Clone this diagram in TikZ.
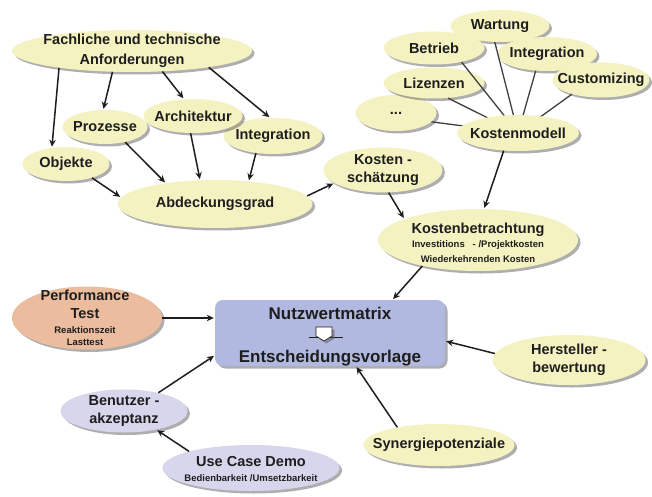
\documentclass[tikz,border=0pt]{standalone}
\usepackage{fontspec}
\setmainfont{Liberation Sans}
\usetikzlibrary{shapes.geometric,shadows,arrows.meta,calc}

\definecolor{cream}{HTML}{F5F2C2}
\definecolor{salmon}{HTML}{EBBC9D}
\definecolor{lilac}{HTML}{D8D6EC}
\definecolor{matrixblue}{HTML}{B2B9E0}
\definecolor{ink}{HTML}{1E1E1E}

\newcommand\fbig{\fontsize{14.5pt}{18pt}\selectfont\bfseries}
\newcommand\fmatrix{\fontsize{17pt}{20pt}\selectfont\bfseries}
\newcommand\fsm{\fontsize{9.5pt}{12pt}\selectfont\bfseries}

% \bub{name}{centre}{width}{height}{fill}
\newcommand\bub[5]{\node[bubble, fill=#5, minimum width=#3pt, minimum height=#4pt] (#1) at (#2) {};}

\tikzset{
  softshadow/.style={drop shadow={shadow xshift=2.5pt, shadow yshift=-2.5pt, opacity=.45, fill=black!70}},
  bubble/.style={ellipse, inner sep=0pt, softshadow},
  lbl/.style={font=\fbig, text=ink, align=center, inner sep=0pt},
  note/.style={font=\fsm, text=ink, inner sep=0pt},
  arr/.style={draw=ink, line width=1.5pt, -{Stealth[length=7pt,width=6.5pt]}, shorten >=1pt},
  link/.style={draw=ink!85, line width=1.3pt},
}

\begin{document}
\begin{tikzpicture}[x=1pt, y=-1pt]
\fill[white] (0,0) rectangle (652,497);
\useasboundingbox (0,0) rectangle (652,497);

% requirements cluster
\bub{fach}{132,51}{240}{42}{cream}
\bub{integL}{273,136}{99}{36}{cream}
\bub{arch}{193,116}{99}{34}{cream}
\bub{proz}{105,127}{85}{34}{cream}
\bub{obj}{66,164}{87}{34}{cream}
\bub{abd}{215,204}{195}{48}{cream}

% cost model cluster
\bub{wart}{500,26}{99}{32}{cream}
\bub{betr}{434,48}{101}{33}{cream}
\bub{integR}{547,54}{100}{34}{cream}
\bub{cust}{601,80}{97}{35}{cream}
\bub{dots}{396,113}{81}{36}{cream}
\bub{liz}{434,83}{101}{31}{cream}

% cost model links
\draw[link] (dots.346) -- (518,133);
\draw[link] (liz.313) -- (518,133);
\draw[link] (betr.333) -- (518,133);
\draw[link] (wart.252) -- (518,133);
\draw[link] (integR.236) -- (518,133);
\draw[link] (cust.206) -- (518,133);

\bub{kmod}{518,133}{122}{36}{cream}
\bub{ksch}{383,170}{119}{45}{cream}
\bub{kbetr}{478,240}{200}{62}{cream}

% decision box
\node[rectangle, rounded corners=8pt, fill=matrixblue, minimum width=230pt,
      minimum height=66pt, softshadow] (nutz) at (330,333) {};

% evaluation inputs
\bub{perf}{87,318}{150}{63}{salmon}
\bub{benu}{124,411}{127}{43}{lilac}
\bub{ucd}{251,468}{177}{46}{lilac}
\bub{herst}{569,360}{153}{50}{cream}
\bub{syn}{439,445}{151}{42}{cream}

% labels
\node[lbl] (fach-t) at (fach) {Fachliche und technische\\[2pt]Anforderungen};
\node[lbl] (proz-t) at (proz) {Prozesse};
\node[lbl] (arch-t) at (arch) {Architektur};
\node[lbl] (integL-t) at (integL) {Integration};
\node[lbl] (obj-t) at (obj) {Objekte};
\node[lbl] (abd-t) at (abd) {Abdeckungsgrad};
\node[lbl] (wart-t) at (wart) {Wartung};
\node[lbl] (betr-t) at (betr) {Betrieb};
\node[lbl] (integR-t) at (integR) {Integration};
\node[lbl] (cust-t) at (cust) {Customizing};
\node[lbl] (liz-t) at (liz) {Lizenzen};
\node[lbl] (dots-t) at (dots) {...};
\node[lbl] (kmod-t) at (kmod) {Kostenmodell};
\node[lbl] (ksch-t) at (ksch) {Kosten -\\schätzung};
\node[lbl] (kbetr-t) at ($(kbetr)+(0,-10)$) {Kostenbetrachtung};
\node[note] (kbetr-a) at ($(kbetr)+(0,5)$) {Investitions \ \ - /Projektkosten};
\node[note] (kbetr-b) at ($(kbetr)+(0,19)$) {Wiederkehrenden Kosten};
\node[lbl] (perf-t) at ($(perf)+(-2,-14)$) {Performance\\Test};
\node[note] (perf-a) at ($(perf)+(-2,12)$) {Reaktionszeit};
\node[note] (perf-b) at ($(perf)+(-2,24)$) {Lasttest};
\node[lbl] (benu-t) at (benu) {Benutzer -\\akzeptanz};
\node[lbl] (ucd-t) at ($(ucd)+(0,-6)$) {Use Case Demo};
\node[note] (ucd-a) at ($(ucd)+(0,10)$) {Bedienbarkeit /Umsetzbarkeit};
\node[lbl] (herst-t) at (herst) {Hersteller -\\bewertung};
\node[lbl] (syn-t) at (syn) {Synergiepotenziale};
\node[lbl, font=\fmatrix] (nutz-a) at ($(nutz)+(0,-20)$) {Nutzwertmatrix};
\node[lbl, font=\fmatrix] (nutz-b) at ($(nutz)+(0,25)$) {Entscheidungsvorlage};

% small down-arrow symbol between the two box lines
\draw[ink, line width=0.8pt] ($(nutz)+(-21,4)$) -- ($(nutz)+(13,4)$);
\filldraw[fill=white, draw=ink, line width=0.6pt, softshadow]
  ($(nutz)+(-14,-6)$) -- ($(nutz)+(2,-6)$) -- ($(nutz)+(2,3)$) -- ($(nutz)+(-6,8)$)
  -- ($(nutz)+(-14,3)$) -- cycle;

% arrows
\draw[arr] (fach.193) -- (obj.131);
\draw[arr] (fach.227) -- (proz.96);
\draw[arr] (fach.326) -- (arch.118);
\draw[arr] (fach.348) -- (integL.99);
\draw[arr] (proz.323) -- (abd.157);
\draw[arr] (arch.262) -- (abd.122);
\draw[arr] (integL.225) -- (abd.34);
\draw[arr] (obj.332) -- (abd.176);
\draw[arr] (abd.5) -- (ksch.195);
\draw[arr] (ksch.284) -- (kbetr.164);
\draw[arr] (kmod.231) -- (kbetr.79);
\draw[arr] (kbetr.205) -- (nutz.28);
\draw[arr] (perf.east) -- (perf.east -| nutz.west);
\draw[arr] (benu.28) -- (nutz.191);
\draw[arr] (ucd.165) -- (benu.330);
\draw[arr] (herst.175) -- (nutz.356);
\draw[arr] (syn.157) -- (nutz.308);
\end{tikzpicture}
\end{document}
